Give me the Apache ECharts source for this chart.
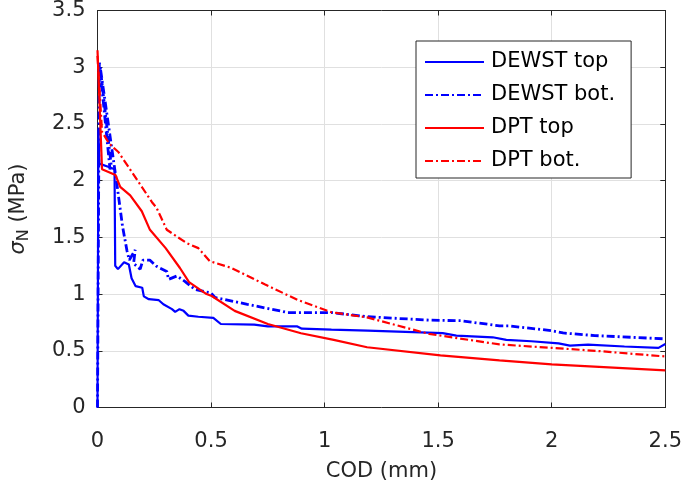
<!DOCTYPE html>
<html>
<head>
<meta charset="utf-8">
<script src="https://cdn.jsdelivr.net/npm/echarts@6/dist/echarts.min.js"></script>
<style>
html,body{margin:0;padding:0;background:#fff;}
#chart{width:685px;height:492px;}
</style>
</head>
<body>
<div id="chart"></div>
<script>
// ---- data (COD in mm, sigma_N in MPa) ----
const seriesNames = ['DEWST top', 'DEWST bot.', 'DPT top', 'DPT bot.'];
const xTicks = ['0', '0.5', '1', '1.5', '2', '2.5'];
const yTicks = ['0', '0.5', '1', '1.5', '2', '2.5', '3', '3.5'];

const dewstTopCod = [0, 0.004, 0.008, 0.05, 0.075, 0.078, 0.09, 0.117, 0.138, 0.15, 0.168, 0.197, 0.204, 0.226, 0.27, 0.29, 0.328, 0.342, 0.361, 0.379, 0.4, 0.444, 0.51, 0.543, 0.69, 0.75, 0.88, 0.9, 1.03, 1.19, 1.52, 1.58, 1.74, 1.8, 1.91, 2.03, 2.08, 2.16, 2.32, 2.47, 2.5];
const dewstTopSig = [0, 2.45, 2.15, 2.12, 2.1, 1.25, 1.22, 1.28, 1.26, 1.14, 1.07, 1.056, 0.98, 0.955, 0.946, 0.91, 0.867, 0.843, 0.867, 0.852, 0.81, 0.8, 0.79, 0.736, 0.73, 0.715, 0.715, 0.695, 0.686, 0.677, 0.656, 0.634, 0.619, 0.596, 0.584, 0.566, 0.546, 0.555, 0.538, 0.526, 0.56];

const dewstBotCod = [0, 0.008, 0.055, 0.06, 0.012, 0.086, 0.11, 0.13, 0.14, 0.166, 0.159, 0.188, 0.2, 0.23, 0.26, 0.305, 0.313, 0.35, 0.386, 0.43, 0.5, 0.517, 0.66, 0.838, 1.03, 1.19, 1.46, 1.6, 1.77, 1.81, 2.0, 2.05, 2.19, 2.5];
const dewstBotSig = [0, 3.05, 2.1, 2.14, 3.0, 1.96, 1.6, 1.38, 1.3, 1.39, 1.27, 1.22, 1.3, 1.3, 1.245, 1.2, 1.13, 1.16, 1.11, 1.04, 1.01, 0.97, 0.91, 0.837, 0.837, 0.8, 0.77, 0.765, 0.72, 0.72, 0.677, 0.657, 0.634, 0.605];

const dptTopCod = [0, 0.02, 0.079, 0.1, 0.144, 0.195, 0.23, 0.3, 0.363, 0.403, 0.48, 0.503, 0.604, 0.75, 0.896, 1.04, 1.187, 1.51, 1.77, 2.0, 2.5];
const dptTopSig = [3.15, 2.1, 2.05, 1.945, 1.87, 1.73, 1.57, 1.405, 1.23, 1.105, 1.0, 0.983, 0.852, 0.736, 0.655, 0.596, 0.531, 0.459, 0.415, 0.38, 0.328];

const dptBotCod = [0, 0.02, 0.05, 0.093, 0.18, 0.24, 0.26, 0.305, 0.392, 0.444, 0.494, 0.59, 0.736, 0.88, 1.03, 1.187, 1.46, 1.77, 2.0, 2.21, 2.5];
const dptBotSig = [3.1, 2.43, 2.33, 2.25, 1.99, 1.81, 1.76, 1.567, 1.45, 1.405, 1.29, 1.23, 1.086, 0.95, 0.84, 0.794, 0.649, 0.556, 0.526, 0.497, 0.45];

function zip(xs, ys) { return xs.map((x, i) => [x, ys[i]]); }

const axisColor = '#262626';
const fontFamily = 'DejaVu Sans';
const dashDot = [8, 3, 2, 3];

const boxAxis = {
  type: 'value',
  axisLine: {show: true, onZero: false, lineStyle: {color: axisColor, width: 1}},
  axisTick: {show: true, inside: true, length: 5, lineStyle: {color: axisColor}},
  axisLabel: {show: false}, splitLine: {show: false}
};

const chart = echarts.init(document.getElementById('chart'), null, {renderer: 'canvas'});
chart.setOption({
  animation: false,
  backgroundColor: '#fff',
  textStyle: {fontFamily: fontFamily},
  grid: {left: 95, right: 18, top: 8, bottom: 84.5, containLabel: false},
  legend: {
    data: seriesNames,
    orient: 'vertical',
    left: 416, top: 41,
    padding: [9, 16, 5, 8],
    itemGap: 9,
    itemWidth: 59, itemHeight: 14,
    itemStyle: {opacity: 0},
    backgroundColor: '#fff',
    borderColor: axisColor, borderWidth: 1, borderRadius: 0,
    textStyle: {fontSize: 21, color: '#000', fontFamily: fontFamily, lineHeight: 24, padding: [0,0,0,2]}
  },
  xAxis: [{
    type: 'value', min: 0, max: 2.5, interval: 0.5,
    name: 'COD (mm)', nameLocation: 'middle', nameGap: 54,
    nameTextStyle: {fontSize: 21, color: axisColor, fontFamily: fontFamily},
    axisLine: {show: true, onZero: false, lineStyle: {color: axisColor, width: 1}},
    axisTick: {show: true, inside: true, length: 5, lineStyle: {color: axisColor}},
    axisLabel: {fontSize: 21, color: axisColor, margin: 24, fontFamily: fontFamily,
      formatter: v => xTicks[Math.round(v / 0.5)]},
    splitLine: {show: true, lineStyle: {color: '#e0e0e0', width: 1}}
  }, Object.assign({position: 'top', min: 0, max: 2.5, interval: 0.5}, boxAxis)],
  yAxis: [{
    type: 'value', min: 0, max: 3.5, interval: 0.5,
    name: '{i|σ}{sub|N} (MPa)', nameLocation: 'middle', nameGap: 66, nameRotate: 90,
    nameTextStyle: {fontSize: 21, color: axisColor, fontFamily: fontFamily,
      rich: {
        i: {fontSize: 21, fontStyle: 'italic', color: axisColor, fontFamily: fontFamily},
        sub: {fontSize: 16, color: axisColor, fontFamily: fontFamily, padding: [10, 0, 0, 0]}
      }},
    axisLine: {show: true, onZero: false, lineStyle: {color: axisColor, width: 1}},
    axisTick: {show: true, inside: true, length: 5, lineStyle: {color: axisColor}},
    axisLabel: {fontSize: 21, color: axisColor, margin: 12, fontFamily: fontFamily,
      formatter: v => yTicks[Math.round(v / 0.5)]},
    splitLine: {show: true, lineStyle: {color: '#e0e0e0', width: 1}}
  }, Object.assign({position: 'right', min: 0, max: 3.5, interval: 0.5}, boxAxis)],
  series: [
    {name: seriesNames[0], type: 'line', data: zip(dewstTopCod, dewstTopSig), symbol: 'none',
      color: '#0000ff', lineStyle: {color: '#0000ff', width: 2.2, type: 'solid'}},
    {name: seriesNames[1], type: 'line', data: zip(dewstBotCod, dewstBotSig), symbol: 'none',
      color: '#0000ff', lineStyle: {color: '#0000ff', width: 2.8, type: dashDot}},
    {name: seriesNames[2], type: 'line', data: zip(dptTopCod, dptTopSig), symbol: 'none',
      color: '#ff0000', lineStyle: {color: '#ff0000', width: 2.2, type: 'solid'}},
    {name: seriesNames[3], type: 'line', data: zip(dptBotCod, dptBotSig), symbol: 'none',
      color: '#ff0000', lineStyle: {color: '#ff0000', width: 2.2, type: dashDot}}
  ]
});
</script>
</body>
</html>
